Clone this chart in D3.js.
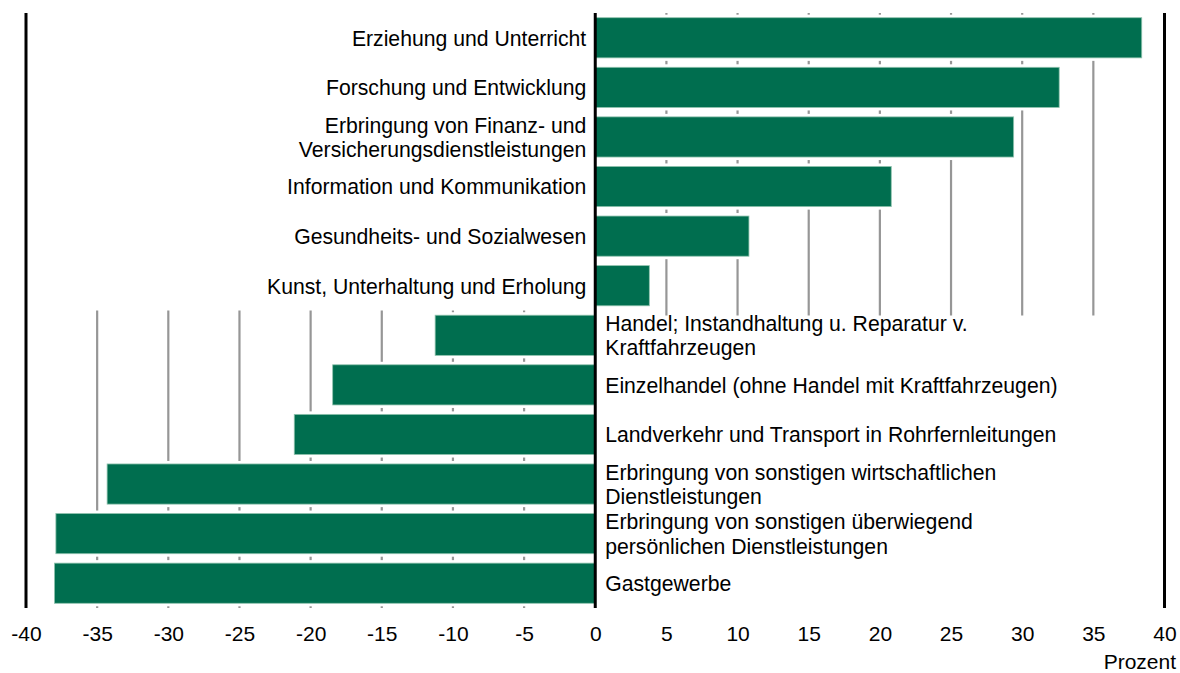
<!DOCTYPE html>
<html>
<head>
<meta charset="utf-8">
<script src="https://cdn.jsdelivr.net/npm/d3@7"></script>
<style>
  body { margin: 0; background: #fff; }
  text { font-family: "Liberation Sans", Arial, sans-serif; fill: #000; }
</style>
</head>
<body>
<div id="chart-area"></div>
<script>
// Daten
var categories = [
    ["Erziehung und Unterricht"],
    ["Forschung und Entwicklung"],
    ["Erbringung von Finanz- und", "Versicherungsdienstleistungen"],
    ["Information und Kommunikation"],
    ["Gesundheits- und Sozialwesen"],
    ["Kunst, Unterhaltung und Erholung"],
    ["Handel; Instandhaltung u. Reparatur v.", "Kraftfahrzeugen"],
    ["Einzelhandel (ohne Handel mit Kraftfahrzeugen)"],
    ["Landverkehr und Transport in Rohrfernleitungen"],
    ["Erbringung von sonstigen wirtschaftlichen", "Dienstleistungen"],
    ["Erbringung von sonstigen überwiegend", "persönlichen Dienstleistungen"],
    ["Gastgewerbe"]
];
var values = [38.4, 32.6, 29.4, 20.8, 10.8, 3.8, -11.25, -18.45, -21.15, -34.3, -37.9, -38.0];
var tickValues = [-40, -35, -30, -25, -20, -15, -10, -5, 0, 5, 10, 15, 20, 25, 30, 35, 40];
var gridValues = [-35, -30, -25, -20, -15, -10, -5, 5, 10, 15, 20, 25, 30, 35];

var width = 1180;
var height = 673;
var top0 = 13, bottom0 = 608;

var svg = d3.select("#chart-area")
    .append("svg")
    .attr("width", width)
    .attr("height", height);

// Skalen
var x = d3.scaleLinear()
    .domain([-40, 40])
    .range([26, 1164.5]);

var idx = d3.range(categories.length);
var y = d3.scaleBand()
    .domain(idx)
    .range([top0, bottom0])
    .paddingInner(0.19)
    .paddingOuter(0.095);

var step = y.step();
var firstNeg = values.findIndex(function(v) { return v < 0; });
var split = top0 + firstNeg * step;

// Gitternetz
svg.append("g").selectAll("line")
    .data(gridValues)
    .enter().append("line")
    .attr("x1", function(d) { return x(d); })
    .attr("x2", function(d) { return x(d); })
    .attr("y1", function(d) { return d > 0 ? top0 : split; })
    .attr("y2", function(d) { return d > 0 ? split + 5 : bottom0; })
    .attr("stroke", "#969696")
    .attr("stroke-width", 2.2);

// weisse Abstaende um die Balken
svg.append("g").selectAll("rect")
    .data(idx)
    .enter().append("rect")
    .attr("x", function(i) { return Math.min(x(0), x(values[i])) - 3; })
    .attr("y", function(i) { return y(i) - 3; })
    .attr("width", function(i) { return Math.abs(x(values[i]) - x(0)) + 6; })
    .attr("height", y.bandwidth() + 6)
    .attr("fill", "#fff");

// Balken
svg.append("g").selectAll("rect")
    .data(idx)
    .enter().append("rect")
    .attr("x", function(i) { return Math.min(x(0), x(values[i])); })
    .attr("y", function(i) { return y(i); })
    .attr("width", function(i) { return Math.abs(x(values[i]) - x(0)); })
    .attr("height", y.bandwidth())
    .attr("fill", "#006e4f")
    .attr("stroke", "#8fc3ae")
    .attr("stroke-width", 0.8);

// schwarze Linien bei -40, 0, 40
svg.append("g").selectAll("line")
    .data([-40, 0, 40])
    .enter().append("line")
    .attr("x1", function(d) { return x(d); })
    .attr("x2", function(d) { return x(d); })
    .attr("y1", top0)
    .attr("y2", bottom0)
    .attr("stroke", "#000")
    .attr("stroke-width", 3);

// Beschriftungen
var labels = svg.append("g").selectAll("text")
    .data(idx)
    .enter().append("text")
    .attr("font-size", "21.2px")
    .attr("text-anchor", function(i) { return values[i] >= 0 ? "end" : "start"; })
    .attr("x", function(i) { return values[i] >= 0 ? x(0) - 9 : x(0) + 10; })
    .attr("y", function(i) { return y(i) + y.bandwidth() / 2; });

labels.each(function(i) {
    var t = d3.select(this);
    var lines = categories[i];
    var x0 = t.attr("x");
    var y0 = +t.attr("y");
    lines.forEach(function(l, k) {
        t.append("tspan")
            .attr("x", x0)
            .attr("y", y0 + (k - (lines.length - 1) / 2) * 24.5 + 7.8)
            .text(l);
    });
});

// Achse
var bottomAxis = d3.axisBottom(x)
    .tickValues(tickValues)
    .tickFormat(function(d) { return String(d); })
    .tickSize(0)
    .tickPadding(18);
var ax = svg.append("g")
    .attr("transform", "translate(0," + bottom0 + ")")
    .call(bottomAxis);
ax.select(".domain").remove();
ax.selectAll("text")
    .attr("font-size", "21px")
    .attr("font-family", "Liberation Sans, Arial, sans-serif")
    .attr("fill", "#000");

svg.append("text")
    .attr("x", 1176)
    .attr("y", 669)
    .attr("text-anchor", "end")
    .attr("font-size", "21px")
    .text("Prozent");
</script>
</body>
</html>
